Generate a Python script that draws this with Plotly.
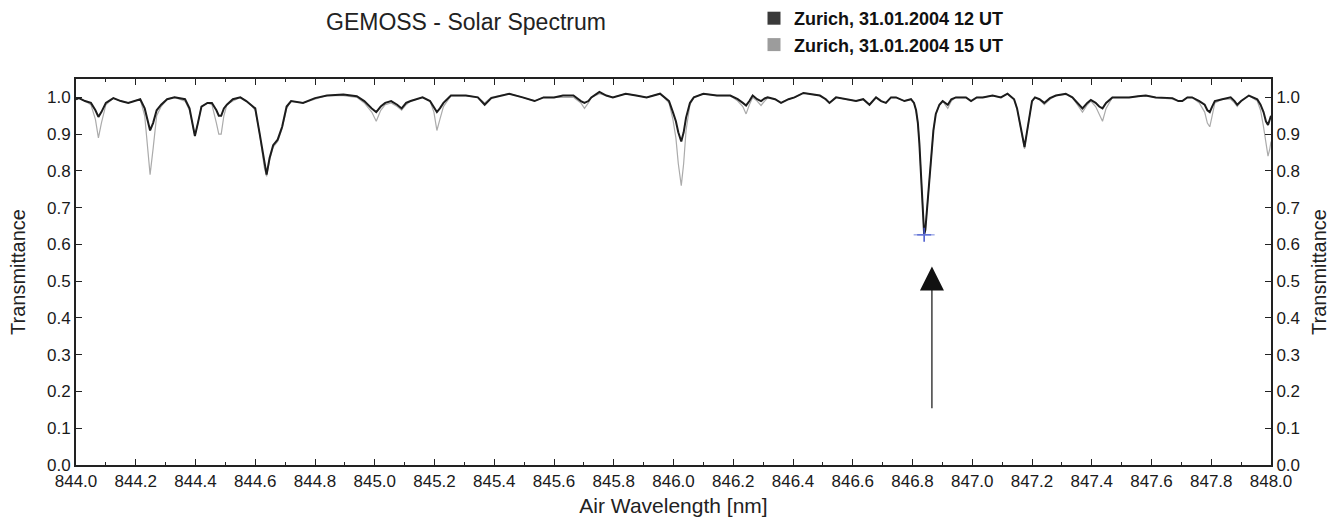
import plotly.graph_objects as go

# ---- data ----
wavelength = [
    844.000, 844.010, 844.030, 844.050, 844.065, 844.075, 844.085, 844.100, 844.125, 844.150,
    844.175, 844.200, 844.215, 844.230, 844.240, 844.248, 844.258, 844.270, 844.285, 844.305,
    844.330, 844.365, 844.380, 844.390, 844.398, 844.408, 844.420, 844.440, 844.455, 844.470,
    844.478, 844.486, 844.495, 844.505, 844.525, 844.550, 844.570, 844.585, 844.600, 844.615,
    844.630, 844.638, 844.648, 844.660, 844.675, 844.690, 844.705, 844.720, 844.760, 844.800,
    844.840, 844.895, 844.940, 844.965, 844.990, 845.005, 845.020, 845.035, 845.055, 845.075,
    845.090, 845.105, 845.120, 845.160, 845.185, 845.198, 845.208, 845.218, 845.230, 845.255,
    845.305, 845.345, 845.368, 845.390, 845.450, 845.495, 845.520, 845.535, 845.565, 845.600,
    845.630, 845.665, 845.690, 845.702, 845.715, 845.725, 845.752, 845.775, 845.797, 845.840,
    845.875, 845.910, 845.955, 845.985, 845.998, 846.008, 846.016, 846.026, 846.034, 846.042,
    846.055, 846.068, 846.100, 846.145, 846.190, 846.215, 846.232, 846.243, 846.254, 846.265,
    846.280, 846.293, 846.305, 846.315, 846.340, 846.360, 846.385, 846.405, 846.435, 846.460,
    846.490, 846.510, 846.522, 846.544, 846.575, 846.611, 846.635, 846.656, 846.678, 846.695,
    846.711, 846.728, 846.745, 846.773, 846.795, 846.805, 846.812, 846.818, 846.823, 846.828,
    846.832, 846.836, 846.839, 846.843, 846.847, 846.851, 846.856, 846.862, 846.870, 846.878,
    846.890, 846.901, 846.918, 846.930, 846.945, 846.979, 846.996, 847.015, 847.035, 847.068,
    847.096, 847.118, 847.140, 847.150, 847.160, 847.168, 847.175, 847.182, 847.190, 847.200,
    847.210, 847.225, 847.241, 847.260, 847.280, 847.313, 847.335, 847.352, 847.369, 847.385,
    847.397, 847.413, 847.425, 847.436, 847.448, 847.469, 847.500, 847.525, 847.555, 847.581,
    847.614, 847.645, 847.670, 847.690, 847.703, 847.720, 847.736, 847.760, 847.778, 847.787,
    847.795, 847.803, 847.812, 847.837, 847.865, 847.878, 847.887, 847.900, 847.926, 847.954,
    847.965, 847.975, 847.983, 847.990, 847.996, 848.000,
]

trans_12ut = [
    0.995, 0.998, 0.990, 0.985, 0.965, 0.947, 0.960, 0.985, 0.998, 0.990,
    0.985, 0.990, 0.995, 0.970, 0.935, 0.910, 0.930, 0.965, 0.980, 0.995,
    1.000, 0.995, 0.970, 0.925, 0.895, 0.930, 0.975, 0.985, 0.985, 0.965,
    0.950, 0.950, 0.970, 0.980, 0.995, 1.000, 0.990, 0.980, 0.970, 0.900,
    0.820, 0.790, 0.835, 0.870, 0.885, 0.920, 0.975, 0.990, 0.985, 0.998,
    1.005, 1.008, 1.003, 0.990, 0.970, 0.960, 0.975, 0.985, 0.990, 0.980,
    0.970, 0.985, 0.990, 1.000, 0.990, 0.975, 0.960, 0.970, 0.985, 1.005,
    1.005, 1.000, 0.980, 0.998, 1.010, 1.000, 0.995, 0.990, 1.000, 1.000,
    1.005, 1.005, 0.990, 0.985, 0.990, 1.000, 1.015, 1.005, 1.000, 1.010,
    1.005, 1.000, 1.010, 0.990, 0.960, 0.935, 0.905, 0.880, 0.905, 0.945,
    0.985, 1.000, 1.010, 1.005, 1.005, 0.995, 0.985, 0.978, 0.990, 1.005,
    0.995, 0.990, 0.997, 1.000, 0.995, 0.985, 0.995, 1.000, 1.012, 1.008,
    1.005, 0.995, 0.985, 1.000, 0.995, 0.990, 0.995, 0.980, 1.000, 0.990,
    0.985, 1.000, 1.000, 0.990, 0.995, 0.985, 0.965, 0.930, 0.875, 0.800,
    0.735, 0.665, 0.627, 0.640, 0.680, 0.710, 0.780, 0.845, 0.910, 0.955,
    0.980, 0.990, 0.980, 0.995, 1.000, 1.000, 0.990, 1.000, 1.000, 1.005,
    1.000, 1.010, 0.995, 0.970, 0.930, 0.895, 0.865, 0.900, 0.945, 0.990,
    1.000, 0.995, 0.985, 0.998, 1.005, 1.010, 1.000, 0.985, 0.970, 0.985,
    0.993, 0.985, 0.975, 0.970, 0.985, 1.000, 1.000, 1.000, 1.003, 1.005,
    1.000, 1.000, 0.998, 0.990, 0.990, 1.000, 1.000, 0.990, 0.980, 0.965,
    0.960, 0.975, 0.990, 0.995, 1.000, 0.990, 0.980, 0.990, 1.005, 0.995,
    0.980, 0.960, 0.935, 0.925, 0.940, 0.950,
]

trans_15ut = [
    0.995, 0.998, 0.990, 0.980, 0.940, 0.890, 0.930, 0.980, 0.998, 0.990,
    0.985, 0.990, 0.995, 0.950, 0.860, 0.790, 0.860, 0.950, 0.975, 0.995,
    1.000, 0.990, 0.965, 0.920, 0.895, 0.930, 0.975, 0.985, 0.980, 0.930,
    0.900, 0.900, 0.950, 0.980, 0.990, 1.000, 0.990, 0.980, 0.965, 0.900,
    0.810, 0.785, 0.830, 0.865, 0.880, 0.915, 0.970, 0.990, 0.985, 0.995,
    1.005, 1.005, 1.000, 0.985, 0.960, 0.935, 0.965, 0.980, 0.985, 0.975,
    0.965, 0.980, 0.990, 1.000, 0.990, 0.960, 0.910, 0.940, 0.975, 1.005,
    1.005, 1.000, 0.985, 1.000, 1.010, 1.000, 0.995, 0.990, 1.000, 1.000,
    1.000, 1.000, 0.985, 0.970, 0.985, 1.000, 1.010, 1.005, 1.000, 1.010,
    1.005, 1.000, 1.010, 0.985, 0.940, 0.890, 0.820, 0.760, 0.820, 0.910,
    0.980, 1.000, 1.010, 1.005, 1.005, 0.990, 0.975, 0.955, 0.980, 1.000,
    0.990, 0.978, 0.990, 0.998, 0.995, 0.985, 0.995, 1.000, 1.012, 1.008,
    1.005, 0.993, 0.985, 1.000, 0.995, 0.990, 0.995, 0.980, 1.000, 0.990,
    0.985, 1.000, 1.000, 0.990, 0.995, 0.985, 0.965, 0.930, 0.875, 0.800,
    0.730, 0.660, 0.625, 0.640, 0.680, 0.710, 0.780, 0.845, 0.910, 0.955,
    0.980, 0.990, 0.970, 0.990, 1.000, 1.000, 0.990, 1.000, 1.000, 1.005,
    1.000, 1.010, 0.995, 0.970, 0.930, 0.890, 0.860, 0.900, 0.945, 0.990,
    1.000, 0.995, 0.980, 0.995, 1.005, 1.008, 1.000, 0.980, 0.960, 0.980,
    0.990, 0.975, 0.955, 0.935, 0.970, 1.000, 1.000, 1.000, 1.003, 1.005,
    1.000, 0.998, 0.995, 0.990, 0.990, 1.000, 1.000, 0.985, 0.960, 0.930,
    0.920, 0.950, 0.985, 0.995, 0.995, 0.985, 0.975, 0.990, 1.005, 0.990,
    0.965, 0.920, 0.870, 0.840, 0.860, 0.880,
]

series_names = ["Zurich, 31.01.2004 12 UT", "Zurich, 31.01.2004 15 UT"]
min_wavelength = [846.839]
min_trans = [0.626]
arrow_x = 846.865
arrow_tail = 0.15
arrow_head = 0.54

x_ticks = [844.0, 844.2, 844.4, 844.6, 844.8, 845.0, 845.2, 845.4, 845.6, 845.8,
           846.0, 846.2, 846.4, 846.6, 846.8, 847.0, 847.2, 847.4, 847.6, 847.8, 848.0]
y_ticks = [0.0, 0.1, 0.2, 0.3, 0.4, 0.5, 0.6, 0.7, 0.8, 0.9, 1.0]

FONT = "Liberation Sans, Arial, sans-serif"
DARK = "#1c1c1c"
GREY = "#ababab"
AX = "#222222"

PLOT_L, PLOT_R, PLOT_T, PLOT_B = 76, 1271, 79, 465
PW, PH = PLOT_R - PLOT_L, PLOT_B - PLOT_T

fig = go.Figure()

fig.add_trace(go.Scatter(x=wavelength, y=trans_15ut, mode="lines",
                         line=dict(color=GREY, width=1.2), showlegend=False,
                         name=series_names[1]))
fig.add_trace(go.Scatter(x=wavelength, y=trans_12ut, mode="lines",
                         line=dict(color=DARK, width=2), showlegend=False,
                         name=series_names[0]))
fig.add_trace(go.Scatter(x=min_wavelength, y=min_trans, mode="markers",
                         marker=dict(symbol="cross-thin", size=10,
                                     line=dict(color="#4455cc", width=1.5)),
                         showlegend=False))
fig.add_trace(go.Scatter(x=min_wavelength, y=min_trans, mode="markers",
                         marker=dict(symbol="line-ew", size=15,
                                     line=dict(color="#7788dd", width=1)),
                         showlegend=False))

# legend entries (square swatches)
fig.add_trace(go.Scatter(x=[None], y=[None], mode="markers", name=series_names[0],
                         marker=dict(symbol="square", size=13, color="#3a3a3a")))
fig.add_trace(go.Scatter(x=[None], y=[None], mode="markers", name=series_names[1],
                         marker=dict(symbol="square", size=13, color="#9c9c9c")))

fig.add_annotation(x=arrow_x, y=arrow_head, ax=arrow_x, ay=arrow_tail,
                   xref="x", yref="y", axref="x", ayref="y",
                   showarrow=True, arrowhead=2, arrowsize=4, arrowwidth=1.2,
                   arrowcolor="#111111", text="")

fig.add_annotation(text="GEMOSS - Solar Spectrum", xref="paper", yref="paper",
                   x=(466 - PLOT_L) / PW, y=(PLOT_B - 22) / PH, xanchor="center",
                   yanchor="middle", showarrow=False,
                   font=dict(family=FONT, size=23, color="#222"))

axis_common = dict(showline=True, linewidth=2, linecolor=AX, mirror=False,
                   showgrid=False, zeroline=False, ticks="inside", automargin=False,
                   tickcolor=AX, tickfont=dict(family=FONT, size=17, color="#1a1a1a"))

fig.update_layout(
    width=1333, height=522,
    margin=dict(l=PLOT_L, r=1333 - PLOT_R, t=PLOT_T, b=522 - PLOT_B, autoexpand=False),
    paper_bgcolor="white", plot_bgcolor="white",
    font=dict(family=FONT),
    xaxis=dict(range=[844.0, 848.0], tickvals=x_ticks,
               ticktext=[f"{v:.1f}" for v in x_ticks], ticklen=6, tickwidth=1,
               minor=dict(dtick=0.1, tick0=844.0, ticks="inside", ticklen=3,
                          tickcolor=AX),
               title=dict(text="Air Wavelength [nm]", standoff=8,
                          font=dict(family=FONT, size=21, color="#222")),
               **axis_common),
    xaxis2=dict(range=[844.0, 848.0], overlaying="x", side="top", matches="x",
                tickvals=x_ticks, showticklabels=False, ticklen=6,
                minor=dict(dtick=0.1, tick0=844.0, ticks="inside", ticklen=3,
                           tickcolor=AX),
                **axis_common),
    yaxis=dict(range=[0, 1.05], tickvals=y_ticks,
               ticktext=[f"{v:.1f}" for v in y_ticks], ticklen=6,
               title=dict(text="Transmittance", standoff=16,
                          font=dict(family=FONT, size=20, color="#222")),
               **axis_common),
    yaxis2=dict(range=[0, 1.05], overlaying="y", side="right", matches="y",
                tickvals=y_ticks, ticktext=[f"{v:.1f}" for v in y_ticks],
                ticklen=6,
                title=dict(text="Transmittance", standoff=13,
                           font=dict(family=FONT, size=20, color="#222")),
                **axis_common),
    legend=dict(x=(754 - PLOT_L) / PW, y=(PLOT_B - 0) / PH, xanchor="left",
                yanchor="top", bgcolor="rgba(0,0,0,0)",
                font=dict(family=FONT, size=18, color="#111", weight="bold"),
                tracegroupgap=0, itemwidth=30),
)

# dummy trace to activate top/right axes
fig.add_trace(go.Scatter(x=[844.0], y=[None], xaxis="x2", yaxis="y2",
                         showlegend=False, hoverinfo="skip"))

fig.write_html("out.html")
